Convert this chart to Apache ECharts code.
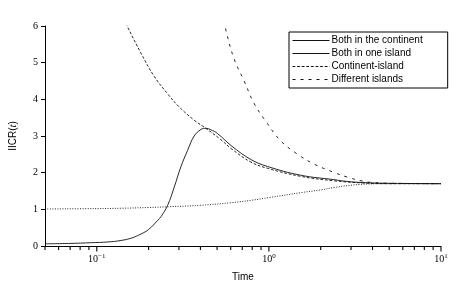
<!DOCTYPE html>
<html><head><meta charset="utf-8">
<script src="https://cdn.jsdelivr.net/npm/echarts@6/dist/echarts.min.js"></script>
<style>html,body{margin:0;padding:0;background:#fff}#c{width:463px;height:288px}</style>
</head><body><div id="c"></div>
<script>
// Data (t, IICR)
var bothContinent = [[0.05,1.01],[0.1,1.02],[0.14,1.03],[0.2,1.05],[0.26,1.07],[0.4,1.11],[0.6,1.18],[0.8,1.25],[1.0,1.32],[1.56,1.46],[2.0,1.53],[2.43,1.60],[3.4,1.68],[5,1.70],[10,1.70]];
var bothIsland = [[0.05,0.06],[0.07,0.07],[0.093,0.09],[0.116,0.11],[0.138,0.15],[0.16,0.22],[0.181,0.33],[0.2,0.45],[0.226,0.70],[0.236,0.80],[0.258,1.11],[0.282,1.61],[0.308,2.16],[0.337,2.61],[0.368,3.00],[0.403,3.18],[0.431,3.21],[0.46,3.17],[0.502,3.07],[0.61,2.72],[0.785,2.36],[0.98,2.17],[1.53,1.93],[2.38,1.81],[2.85,1.76],[3.5,1.73],[5,1.71],[10,1.70]];
var continentIsland = [[0.14,6.3],[0.15,6.0],[0.181,5.25],[0.216,4.62],[0.258,4.15],[0.30,3.80],[0.368,3.43],[0.421,3.24],[0.526,2.90],[0.61,2.64],[0.785,2.29],[0.98,2.12],[1.53,1.90],[2.38,1.78],[3.5,1.72],[5,1.70],[10,1.70]];
var differentIslands = [[0.55,6.15],[0.562,5.89],[0.628,5.10],[0.718,4.5],[0.82,3.89],[0.98,3.34],[1.17,2.87],[1.46,2.51],[1.82,2.24],[2.38,2.01],[2.85,1.88],[3.5,1.77],[4.0,1.73],[5,1.71],[10,1.70]];
var seriesNames = ['Both in the continent','Both in one island','Continent-island','Different islands'];
var xMajorTicks = [0.1,1,10];
var xMinorTicks = [0.05,0.06,0.07,0.08,0.09,0.2,0.3,0.4,0.5,0.6,0.7,0.8,0.9,2,3,4,5,6,7,8,9];
var xMin = 0.05, xMax = 10;

var chart = echarts.init(document.getElementById('c'));
var serif = 'Liberation Serif';
var sans = 'Liberation Sans';
var lineColor = '#111';
function lg(v){return Math.log(v)/Math.LN10;}
function mk(name, data, type, width){
  return {name:name, type:'line', data:data, symbol:'none', smooth:0.4, clip:true,
    lineStyle:{color:lineColor, width:width, type:type}, itemStyle:{color:lineColor}, z:2};
}
function tickSeries(name, vals, len){
  return {name:name, type:'scatter', data:vals.map(function(v){return [v,0];}),
    symbol:'rect', symbolSize:[1.1,len], symbolOffset:[0, len/2+0.5],
    itemStyle:{color:'#000', opacity:1}, clip:false, silent:true, z:5};
}
chart.setOption({
  animation:false,
  grid:{left:43, right:22, top:26, bottom:42},
  legend:{orient:'vertical', left:289, top:32,
    borderColor:'#000', borderWidth:1, borderRadius:0, padding:[2,25,2,3],
    itemWidth:37, itemHeight:8, itemGap:0,
    itemStyle:{color:'rgba(0,0,0,0)', borderWidth:0, opacity:0},
    lineStyle:{width:1},
    textStyle:{fontFamily:sans, fontSize:10, color:'#000', lineHeight:13, padding:[0,0,0,-3]},
    data:[
      {name:seriesNames[0], lineStyle:{type:'solid', width:1}},
      {name:seriesNames[1]},
      {name:seriesNames[2]},
      {name:seriesNames[3]}
    ]},
  xAxis:{
    type:'log', logBase:10, min:xMin, max:xMax,
    name:'Time', nameLocation:'middle', nameGap:26,
    nameTextStyle:{fontFamily:sans, fontSize:10, color:'#000'},
    axisLine:{onZero:false, lineStyle:{color:'#000', width:1}},
    axisTick:{show:false},
    axisLabel:{margin:7, color:'#000', showMinLabel:false,
      formatter:function(v){var e=Math.round(lg(v)); if (Math.abs(lg(v)-e)>1e-6) return ''; return '{b|10}{e|'+(e<0?'\u2212'+(-e):e)+'}';},
      rich:{b:{fontFamily:serif, fontSize:10, color:'#000'}, e:{fontFamily:serif, fontSize:7, color:'#000', padding:[0,0,6,0]}}},
    splitLine:{show:false}
  },
  yAxis:{
    type:'value', min:0, max:6, interval:1,
    name:'{a|IICR(}{i|t}{a|)}', nameLocation:'middle', nameGap:26, nameRotate:90,
    nameTextStyle:{rich:{a:{fontFamily:sans, fontSize:10, color:'#000'}, i:{fontFamily:serif, fontStyle:'italic', fontSize:11, color:'#000'}}},
    axisLine:{show:true, onZero:false, lineStyle:{color:'#000', width:1}},
    axisTick:{show:true, inside:false, length:4, lineStyle:{color:'#000'}},
    axisLabel:{fontFamily:serif, fontSize:10, color:'#000', margin:7},
    splitLine:{show:false}
  },
  series:[
    mk(seriesNames[0], bothContinent, [1,1.5], 0.9),
    mk(seriesNames[1], bothIsland, 'solid', 0.9),
    mk(seriesNames[2], continentIsland, [2.8,1.8], 0.9),
    mk(seriesNames[3], differentIslands, [3,5], 0.9),
    tickSeries('majorTicks', xMajorTicks, 5),
    tickSeries('minorTicks', xMinorTicks, 3.5)
  ]
});
</script></body></html>
